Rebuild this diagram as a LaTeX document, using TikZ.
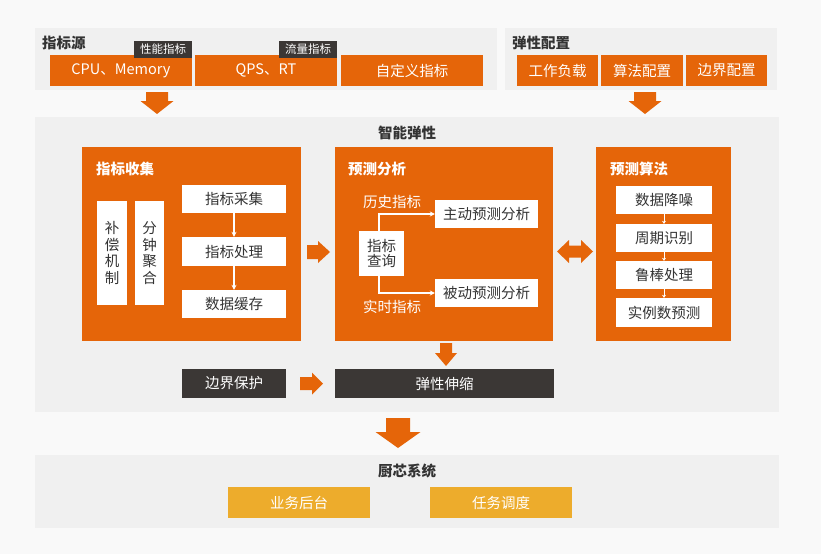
\documentclass[tikz,border=0pt]{standalone}
\usepackage{fontspec}
\setmainfont{Noto Sans CJK SC}
\usetikzlibrary{arrows.meta}
\definecolor{bgC}{RGB}{249,249,249}
\definecolor{panelC}{RGB}{240,240,240}
\definecolor{orangeC}{RGB}{229,101,9}
\definecolor{darkC}{RGB}{59,55,53}
\definecolor{yellowC}{RGB}{237,172,44}
\definecolor{txtC}{RGB}{51,51,51}
\newcommand\ArrDown[6]{\fill[orangeC] ({#1-#4/2},#2) -- ({#1+#4/2},#2) -- ({#1+#4/2},#6) -- ({#1+#5/2},#6) -- (#1,#3) -- ({#1-#5/2},#6) -- ({#1-#4/2},#6) -- cycle;}
\newcommand\ArrRight[6]{\fill[orangeC] (#2,{#1-#4/2}) -- (#2,{#1+#4/2}) -- (#6,{#1+#4/2}) -- (#6,{#1+#5/2}) -- (#3,#1) -- (#6,{#1-#5/2}) -- (#6,{#1-#4/2}) -- cycle;}
\tikzset{
  box/.style={rectangle, inner sep=0pt, minimum width=#1},
  panel/.style={box=#1, fill=panelC},
  obox/.style={box=#1, fill=orangeC, text=white, font=\fontsize{14.5}{16}\selectfont, minimum height=31},
  wbox/.style={box=#1, fill=white, text=txtC, font=\fontsize{14.5}{16}\selectfont},
  dbox/.style={box=#1, fill=darkC, text=white, font=\fontsize{14.5}{16}\selectfont, minimum height=29},
  tagbox/.style={box=58, fill=darkC, text=white, font=\fontsize{11.5}{13}\selectfont, minimum height=17},
  ybox/.style={box=142, fill=yellowC, text=white, font=\fontsize{14.5}{16}\selectfont, minimum height=31},
  bigbox/.style={box=#1, fill=orangeC, minimum height=194},
  ptitle/.style={text=txtC, font=\bfseries\fontsize{14.5}{16}\selectfont, inner sep=0pt},
  wtitle/.style={text=white, font=\bfseries\fontsize{14.5}{16}\selectfont, inner sep=0pt, anchor=west},
  wtext/.style={text=white, font=\fontsize{14.5}{16}\selectfont, inner sep=0pt},
  wline/.style={draw=white, line width=1.1pt, -{Stealth[length=5pt,width=5pt]}},
}
\begin{document}
\begin{tikzpicture}[x=1pt,y=-1pt]
\fill[bgC] (0,0) rectangle (821,554);
\useasboundingbox (0,0) rectangle (821,554);
% panels
\node[panel=462, minimum height=62] (pSrc) at (266,59) {};
\node[panel=272, minimum height=62] (pCfg) at (641,59) {};
\node[panel=744, minimum height=295] (pMain) at (407,264.5) {};
\node[panel=744, minimum height=73] (pChef) at (407,491.5) {};
% top left
\node[ptitle, anchor=west] (tSrc) at (42,43) {指标源};
\node[obox=142] (cpu) at (121,70.5) {CPU、Memory};
\node[obox=142] (qps) at (266,70.5) {QPS、RT};
\node[obox=142] (cust) at (412,70.5) {自定义指标};
\node[tagbox] (perf) at (163,49.5) {性能指标};
\node[tagbox] (flow) at (308,49.5) {流量指标};
% top right
\node[ptitle, anchor=west] (tCfg) at (512,43) {弹性配置};
\node[obox=81] (work) at (557.5,70.5) {工作负载};
\node[obox=82] (algc) at (642,70.5) {算法配置};
\node[obox=81] (bndc) at (726.5,70.5) {边界配置};
\ArrDown{157}{92}{114}{22}{33}{101}
\ArrDown{645}{92}{114}{22}{33}{101}
% main
\node[ptitle] (tMain) at (407,133) {智能弹性};
\node[bigbox=219] (collect) at (191.5,244) {};
\node[bigbox=218] (analyze) at (444,244) {};
\node[bigbox=135] (algo) at (663.5,244) {};
\node[wtitle] (tCol) at (96,169) {指标收集};
\node[wtitle] (tAna) at (348,169) {预测分析};
\node[wtitle] (tAlg) at (610,169) {预测算法};
% collect inner
\node[wbox=30, minimum height=104, align=center, font=\fontsize{14.5}{16.5}\selectfont] (comp) at (112,253) {补\\偿\\机\\制};
\node[wbox=29, minimum height=104, align=center, font=\fontsize{14.5}{16.5}\selectfont] (agg) at (149.5,253) {分\\钟\\聚\\合};
\node[wbox=104, minimum height=28] (cj) at (234,199) {指标采集};
\node[wbox=104, minimum height=29] (cl) at (234,251.5) {指标处理};
\node[wbox=104, minimum height=28] (cc) at (234,304) {数据缓存};
\draw[wline] (cj.south) -- (cl.north);
\draw[wline] (cl.south) -- (cc.north);
% analyze inner
\node[wtext] (hist) at (392,202) {历史指标};
\node[wtext] (rt) at (392,307) {实时指标};
\node[wbox=103, minimum height=28] (active) at (486.5,214) {主动预测分析};
\node[wbox=103, minimum height=28] (passive) at (486.5,293) {被动预测分析};
\node[wbox=45, minimum height=45, align=center, font=\fontsize{14.5}{15}\selectfont] (query) at (381.5,253.5) {指标\\查询};
\draw[wline] ([xshift=-2.5pt]query.north) |- (active.west);
\draw[wline] ([xshift=-2.5pt]query.south) |- (passive.west);
% algo inner
\node[wbox=96, minimum height=28] (a1) at (664,200) {数据降噪};
\node[wbox=96, minimum height=28] (a2) at (664,238) {周期识别};
\node[wbox=96, minimum height=28] (a3) at (664,275) {鲁棒处理};
\node[wbox=96, minimum height=29] (a4) at (664,312.5) {实例数预测};
\draw[wline, line width=0.8pt, -{Stealth[length=3pt,width=4pt]}] (a1.south) -- (a2.north);
\draw[wline, line width=0.8pt, -{Stealth[length=3pt,width=4pt]}] (a2.south) -- (a3.north);
\draw[wline, line width=0.8pt, -{Stealth[length=3pt,width=4pt]}] (a3.south) -- (a4.north);
% block arrows in main
\ArrRight{252}{307}{330}{14}{22}{318}
\fill[orangeC] (557,251.5) -- (569,240) -- (569,245.5) -- (581,245.5) -- (581,240) -- (593,251.5) -- (581,263) -- (581,257.5) -- (569,257.5) -- (569,263) -- cycle;
\ArrDown{446}{343}{366}{12}{22}{353}
% bottom of main
\node[dbox=104] (bp) at (234,383.5) {边界保护};
\node[dbox=219] (es) at (444.5,383.5) {弹性伸缩};
\ArrRight{383.5}{300}{323}{13}{22}{312}
\ArrDown{398}{418}{448}{24}{45}{432}
% chef
\node[ptitle] (tChef) at (407,471) {厨芯系统};
\node[ybox] (yb) at (299,502.5) {业务后台};
\node[ybox] (yt) at (501,502.5) {任务调度};
\end{tikzpicture}
\end{document}
